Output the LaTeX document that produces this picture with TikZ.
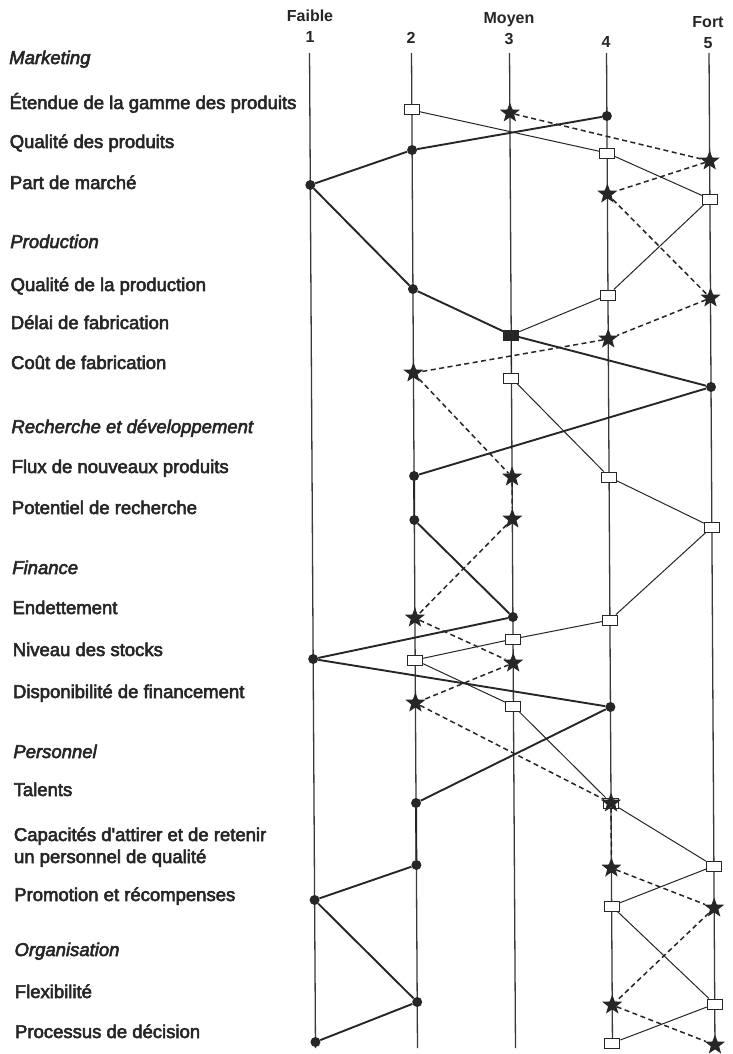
\documentclass[tikz,border=0pt]{standalone}
\usepackage{fontspec}
\setmainfont{Liberation Sans}
\newfontfamily\labfont{Liberation Sans}[FakeBold=3]
\usetikzlibrary{shapes.geometric}

\pgfdeclarelayer{paper}
\pgfdeclarelayer{axes}
\pgfdeclarelayer{links}
\pgfsetlayers{paper,axes,links,main}

\definecolor{ink}{HTML}{262626}
\definecolor{axisgray}{HTML}{3A3A3A}

% x position of scale column #1 (1..5); every column leans a little to the right going down
\newcommand\colx[1]{\ifcase#1\or309.5\or411.5\or509.5\or606.5\or709\fi}
% \plotpt{style}{name}{column}{y}
\newcommand\plotpt[4]{\node[#1] (#2) at ({\colx{#3}+0.006*(#4-50)},#4) {};}
% \rowtext{name}{y}{text}   and   \secttext{name}{y}{text}
\newcommand\rowtext[3]{\node[rowlabel] (#1) at ({9+0.006*(#2-50)},#2+6) {#3};}
\newcommand\secttext[3]{\node[sectlabel] (#1) at ({9+0.006*(#2-50)},#2+6) {#3};}

\tikzset{
  dotmk/.style={circle, fill=ink, inner sep=0pt, minimum size=10pt},
  boxmk/.style={rectangle, draw=ink, fill=white, line width=1pt, inner sep=0pt,
                minimum width=15pt, minimum height=10pt},
  fullboxmk/.style={boxmk, fill=ink},
  starmk/.style={star, star points=5, star point ratio=2.4, fill=ink, inner sep=0pt,
                 minimum size=21pt},
  dotlink/.style={draw=ink, line width=1.9pt},
  boxlink/.style={draw=ink, line width=1pt},
  starlink/.style={draw=ink, line width=1.5pt, dash pattern=on 5pt off 3.5pt},
  axisline/.style={draw=axisgray, line width=1.3pt},
  rowlabel/.style={anchor=base west, inner sep=0pt, text=ink,
                   font=\labfont\fontsize{18.5}{22}\selectfont},
  sectlabel/.style={rowlabel, font=\labfont\itshape\fontsize{18.5}{22}\selectfont},
  scalehead/.style={anchor=base, inner sep=0pt, text=ink,
                    font=\bfseries\fontsize{16}{18}\selectfont},
}

\begin{document}
\begin{tikzpicture}[x=1pt, y=-1pt]
\begin{pgfonlayer}{paper}
  \fill[white] (0,0) rectangle (732,1054);
\end{pgfonlayer}
\useasboundingbox (0,0) rectangle (732,1054);

% scale heads
\node[scalehead] (hFaible) at (310,22) {Faible};
\node[scalehead] (hMoyen)  at (509,24) {Moyen};
\node[scalehead] (hFort)   at (708,28) {Fort};
\node[scalehead] (n1) at (310,43) {1};
\node[scalehead] (n2) at (411,44) {2};
\node[scalehead] (n3) at (509,45) {3};
\node[scalehead] (n4) at (606,48) {4};
\node[scalehead] (n5) at (708,49) {5};

% row labels
\secttext{lMkt}{58}{Marketing}
\rowtext{lEtendue}{103}{Étendue de la gamme des produits}
\rowtext{lQualProd}{142}{Qualité des produits}
\rowtext{lPart}{183}{Part de marché}
\secttext{lProd}{242}{Production}
\rowtext{lQualFab}{285}{Qualité de la production}
\rowtext{lDelai}{323}{Délai de fabrication}
\rowtext{lCout}{363}{Coût de fabrication}
\secttext{lRD}{427}{Recherche et développement}
\rowtext{lFlux}{467}{Flux de nouveaux produits}
\rowtext{lPot}{508}{Potentiel de recherche}
\secttext{lFin}{568}{Finance}
\rowtext{lEndet}{608}{Endettement}
\rowtext{lStocks}{650}{Niveau des stocks}
\rowtext{lDispo}{692}{Disponibilité de financement}
\secttext{lPers}{752}{Personnel}
\rowtext{lTalents}{790}{Talents}
\rowtext{lCapA}{835}{Capacités d'attirer et de retenir}
\rowtext{lCapB}{857}{un personnel de qualité}
\rowtext{lPromo}{895}{Promotion et récompenses}
\secttext{lOrg}{950}{Organisation}
\rowtext{lFlex}{992}{Flexibilité}
\rowtext{lDecision}{1032}{Processus de décision}

% first profile: filled dots
\plotpt{dotmk}{d1}{4}{116}
\plotpt{dotmk}{d2}{2}{150}
\plotpt{dotmk}{d3}{1}{185}
\plotpt{dotmk}{d4}{2}{289}
\plotpt{dotmk}{d5}{3}{335}
\plotpt{dotmk}{d6}{5}{387}
\plotpt{dotmk}{d7}{2}{476}
\plotpt{dotmk}{d8}{2}{520}
\plotpt{dotmk}{d9}{3}{617}
\plotpt{dotmk}{d10}{1}{659}
\plotpt{dotmk}{d11}{4}{707}
\plotpt{dotmk}{d12}{2}{803}
\plotpt{dotmk}{d13}{2}{865}
\plotpt{dotmk}{d14}{1}{900}
\plotpt{dotmk}{d15}{2}{1002}
\plotpt{dotmk}{d16}{1}{1042}

% second profile: open squares
\plotpt{boxmk}{s1}{2}{110}
\plotpt{boxmk}{s2}{4}{153}
\plotpt{boxmk}{s3}{5}{199}
\plotpt{boxmk}{s4}{4}{295}
\plotpt{fullboxmk}{s5}{3}{335}
\plotpt{boxmk}{s6}{3}{378}
\plotpt{boxmk}{s7}{4}{477}
\plotpt{boxmk}{s8}{5}{527}
\plotpt{boxmk}{s9}{4}{620}
\plotpt{boxmk}{s9b}{3}{639}
\plotpt{boxmk}{s10}{2}{660}
\plotpt{boxmk}{s11}{3}{706}
\plotpt{boxmk}{s12}{4}{803}
\plotpt{boxmk}{s13}{5}{866}
\plotpt{boxmk}{s14}{4}{906}
\plotpt{boxmk}{s15}{5}{1004}
\plotpt{boxmk}{s16}{4}{1043}

% third profile: stars
\plotpt{starmk}{t1}{3}{113}
\plotpt{starmk}{t2}{5}{161}
\plotpt{starmk}{t3}{4}{194}
\plotpt{starmk}{t4}{5}{298}
\plotpt{starmk}{t5}{4}{339}
\plotpt{starmk}{t6}{2}{373}
\plotpt{starmk}{t7}{3}{477}
\plotpt{starmk}{t8}{3}{519}
\plotpt{starmk}{t9}{2}{618}
\plotpt{starmk}{t10}{3}{663}
\plotpt{starmk}{t11}{2}{703}
\plotpt{starmk}{t12}{4}{803}
\plotpt{starmk}{t13}{4}{868}
\plotpt{starmk}{t14}{5}{908}
\plotpt{starmk}{t15}{4}{1005}
\plotpt{starmk}{t16}{5}{1045}

% scale columns
\begin{pgfonlayer}{axes}
  \foreach \c in {1,...,5} {
    \coordinate (top\c) at ({\colx{\c}+0.006*(53-50)},53);
    \coordinate (bot\c) at ({\colx{\c}+0.006*(1048-50)},1048);
    \draw[axisline] (top\c) -- (bot\c);
  }
\end{pgfonlayer}

% profile lines
\begin{pgfonlayer}{links}
  \draw[dotlink] (d1) -- (d2) -- (d3) -- (d4) -- (d5) -- (d6) -- (d7) -- (d8)
    -- (d9) -- (d10) -- (d11) -- (d12) -- (d13) -- (d14) -- (d15) -- (d16);
  \draw[boxlink] (s1) -- (s2) -- (s3) -- (s4) -- (s5) -- (s6) -- (s7) -- (s8)
    -- (s9) -- (s9b) -- (s10) -- (s11) -- (s12) -- (s13) -- (s14) -- (s15) -- (s16);
  \draw[starlink] (t1) -- (t2) -- (t3) -- (t4) -- (t5) -- (t6) -- (t7) -- (t8)
    -- (t9) -- (t10) -- (t11) -- (t12) -- (t13) -- (t14) -- (t15) -- (t16);
\end{pgfonlayer}
\end{tikzpicture}
\end{document}
